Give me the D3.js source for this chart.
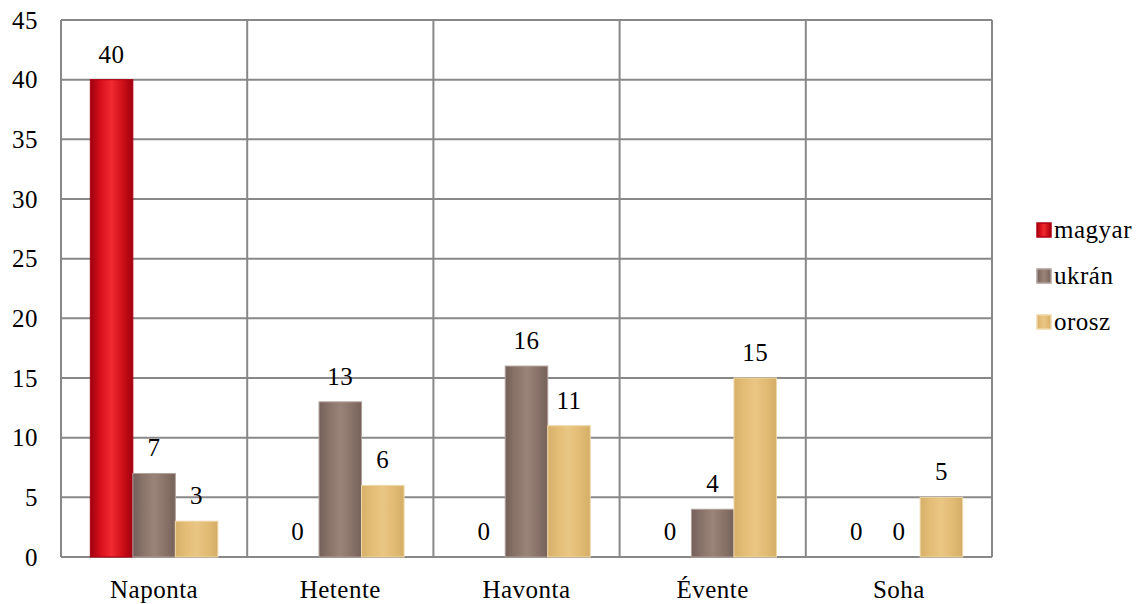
<!DOCTYPE html>
<html><head><meta charset="utf-8">
<script src="https://cdn.jsdelivr.net/npm/d3@7"></script>
<style>
body{margin:0;background:#fff}
svg{display:block;font-family:"Liberation Serif",Tinos,"Times New Roman",serif}
svg text{font-family:"Liberation Serif",Tinos,"Times New Roman",serif !important;font-size:25px !important;letter-spacing:0.5px;fill:#000}
</style>
</head><body>
<svg id="c" width="1144" height="604"></svg>
<script>
const categories = ["Naponta","Hetente","Havonta","Évente","Soha"];
const seriesNames = ["magyar","ukrán","orosz"];
const magyar = [40,0,0,0,0];
const ukran = [7,13,16,4,0];
const orosz = [3,6,11,15,5];
const yTicks = [0,5,10,15,20,25,30,35,40,45];
const values = [magyar, ukran, orosz];

(function(){
const svg = d3.select("#c");
const defs = svg.append("defs");
const grads = [
  {id:"g0", stops:["#9e0010","#d8101c","#f02a30","#d01018","#a00010"], stroke:"#b00014"},
  {id:"g1", stops:["#74605a","#8a746a","#9a8479","#8a746a","#76625a"], stroke:"#b0a09a"},
  {id:"g2", stops:["#d6b06a","#e4bd76","#eac684","#e2bb74","#d4ae68"], stroke:"#f0d8a8"}
];
grads.forEach(g=>{
  const lg = defs.append("linearGradient").attr("id",g.id).attr("x1","0").attr("x2","1").attr("y1","0").attr("y2","0");
  g.stops.forEach((c,i)=>lg.append("stop").attr("offset",(i/(g.stops.length-1))).attr("stop-color",c));
});

const pLeft=61,pRight=992,pTop=20,pBottom=557;
const x0 = d3.scaleBand().domain(categories).range([pLeft,pRight]).paddingInner(0).paddingOuter(0);
const x1 = d3.scaleBand().domain(seriesNames).range([0,x0.bandwidth()]).paddingOuter(0.69).paddingInner(0);
const y = d3.scaleLinear().domain([0,45]).range([pBottom,pTop]);

const grid = svg.append("g");
grid.selectAll("line.h").data(yTicks).join("line")
  .attr("x1",pLeft).attr("x2",pRight).attr("y1",d=>y(d)).attr("y2",d=>y(d))
  .attr("stroke","#888").attr("stroke-width",2);
const vb = categories.map(c=>x0(c)).concat([pRight]);
grid.selectAll("line.v").data(vb).join("line")
  .attr("x1",d=>d).attr("x2",d=>d).attr("y1",pTop).attr("y2",pBottom)
  .attr("stroke","#888").attr("stroke-width",2);

const ya = svg.append("g").attr("transform",`translate(${pLeft},0)`)
  .call(d3.axisLeft(y).tickValues(yTicks).tickSize(0).tickPadding(23));
ya.select(".domain").remove();
ya.attr("font-family",null).attr("font-size",null);

const xa = svg.append("g").attr("transform",`translate(0,${pBottom})`)
  .call(d3.axisBottom(x0).tickSize(0).tickPadding(23));
xa.select(".domain").remove();
xa.attr("font-family",null).attr("font-size",null);

seriesNames.forEach((s,si)=>{
  const g = svg.append("g");
  g.selectAll("rect").data(values[si]).join("rect")
    .attr("x",(d,i)=>x0(categories[i])+x1(s))
    .attr("width",x1.bandwidth())
    .attr("y",d=>y(d))
    .attr("height",d=>Math.max(0,y(0)-y(d)))
    .attr("fill",`url(#${grads[si].id})`)
    .attr("stroke", d=> d===0 ? (si===0?"#c00010":"#6a5a54") : grads[si].stroke)
    .attr("stroke-width", d=> d===0 ? 2 : 1);
  g.selectAll("text").data(values[si]).join("text")
    .attr("x",(d,i)=>x0(categories[i])+x1(s)+x1.bandwidth()/2)
    .attr("y",d=>y(d)-17)
    .attr("text-anchor","middle")
    .text(d=>d);
});

const lg = svg.append("g");
seriesNames.forEach((s,i)=>{
  const yy = 230 + i*46;
  lg.append("rect").attr("x",1037).attr("y",yy-7).attr("width",14).attr("height",14)
    .attr("fill",`url(#${grads[i].id})`).attr("stroke",grads[i].stroke).attr("stroke-width",1.5);
  lg.append("text").attr("x",1054).attr("y",yy+8).text(s);
});
})();
</script>
</body></html>
